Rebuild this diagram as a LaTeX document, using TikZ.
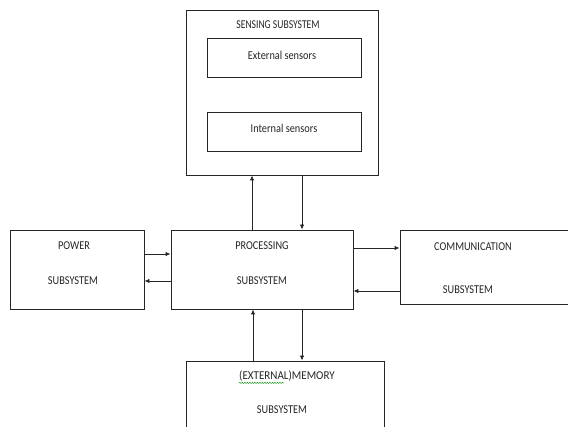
\documentclass[tikz,border=0pt]{standalone}
\usepackage{fontspec}
\setmainfont{Carlito}
\usetikzlibrary{arrows.meta,decorations.pathmorphing}
\newcommand{\sq}[2][0.86]{\scalebox{#1}[1]{#2}}
\begin{document}
\begin{tikzpicture}[x=1pt,y=-1pt,
  box/.style={draw=black!85,line width=0.9pt,inner sep=0pt,minimum width=#1},
  lbl/.style={font=\fontsize{12}{14}\selectfont,text=black!85,inner sep=0pt},
  arr/.style={draw=black!85,line width=0.9pt,-{Latex[length=5pt,width=4.5pt]}}]
\useasboundingbox (0,0) rectangle (568,427);
\clip (0,0) rectangle (568,427);
\fill[white] (0,0) rectangle (568,427);
% boxes
\node[box=192pt,minimum height=165pt] (sens) at (282,92.5) {};
\node[box=154pt,minimum height=39pt] (ext) at (284,57.5) {};
\node[box=154pt,minimum height=39pt] (int) at (284,131.5) {};
\node[box=134pt,minimum height=79pt] (pow) at (77,269.5) {};
\node[box=182pt,minimum height=79pt] (proc) at (262,269.5) {};
\node[box=180pt,minimum height=74pt] (comm) at (490,267) {};
\node[box=198pt,minimum height=79pt] (mem) at (285,400.5) {};
% texts
\node[lbl] (t1) at (278,25) {\sq[0.8]{SENSING SUBSYSTEM}};
\node[lbl] (t2) at (282,55) {\sq{External sensors}};
\node[lbl] (t3) at (284,128) {\sq{Internal sensors}};
\node[lbl] (t4) at (74,246) {\sq{POWER}};
\node[lbl] (t5) at (73,281) {\sq{SUBSYSTEM}};
\node[lbl] (t6) at (262,246) {\sq{PROCESSING}};
\node[lbl] (t7) at (262,281) {\sq{SUBSYSTEM}};
\node[lbl] (t8) at (473,247) {\sq{COMMUNICATION}};
\node[lbl] (t9) at (468,290) {\sq{SUBSYSTEM}};
\node[lbl] (t10) at (287,376) {\sq[0.92]{(EXTERNAL)MEMORY}};
\node[lbl] (t11) at (282,410) {\sq{SUBSYSTEM}};
% spell-check squiggle
\draw[green!55!black,line width=0.4pt,decorate,decoration={snake,amplitude=0.6pt,segment length=2.5pt}]
  ([yshift=-1.5pt]t10.south west) -- ([xshift=-3pt,yshift=-1.5pt]t10.south);
% columns / rows for connectors
\coordinate (c1) at (252,0);
\coordinate (c2) at (302,0);
\coordinate (c3) at (253,0);
\coordinate (r1) at (0,254);
\coordinate (r2) at (0,281);
\coordinate (r3) at (0,248);
\coordinate (r4) at (0,291);
% connectors
\draw[arr] (proc.north -| c1) -- (sens.south -| c1);
\draw[arr] (sens.south -| c2) -- (proc.north -| c2);
\draw[arr] (pow.east |- r1) -- (proc.west |- r1);
\draw[arr] (proc.west |- r2) -- (pow.east |- r2);
\draw[arr] (proc.east |- r3) -- (comm.west |- r3);
\draw[arr] (comm.west |- r4) -- (proc.east |- r4);
\draw[arr] (mem.north -| c3) -- (proc.south -| c3);
\draw[arr] (proc.south -| c2) -- (mem.north -| c2);
\end{tikzpicture}
\end{document}
